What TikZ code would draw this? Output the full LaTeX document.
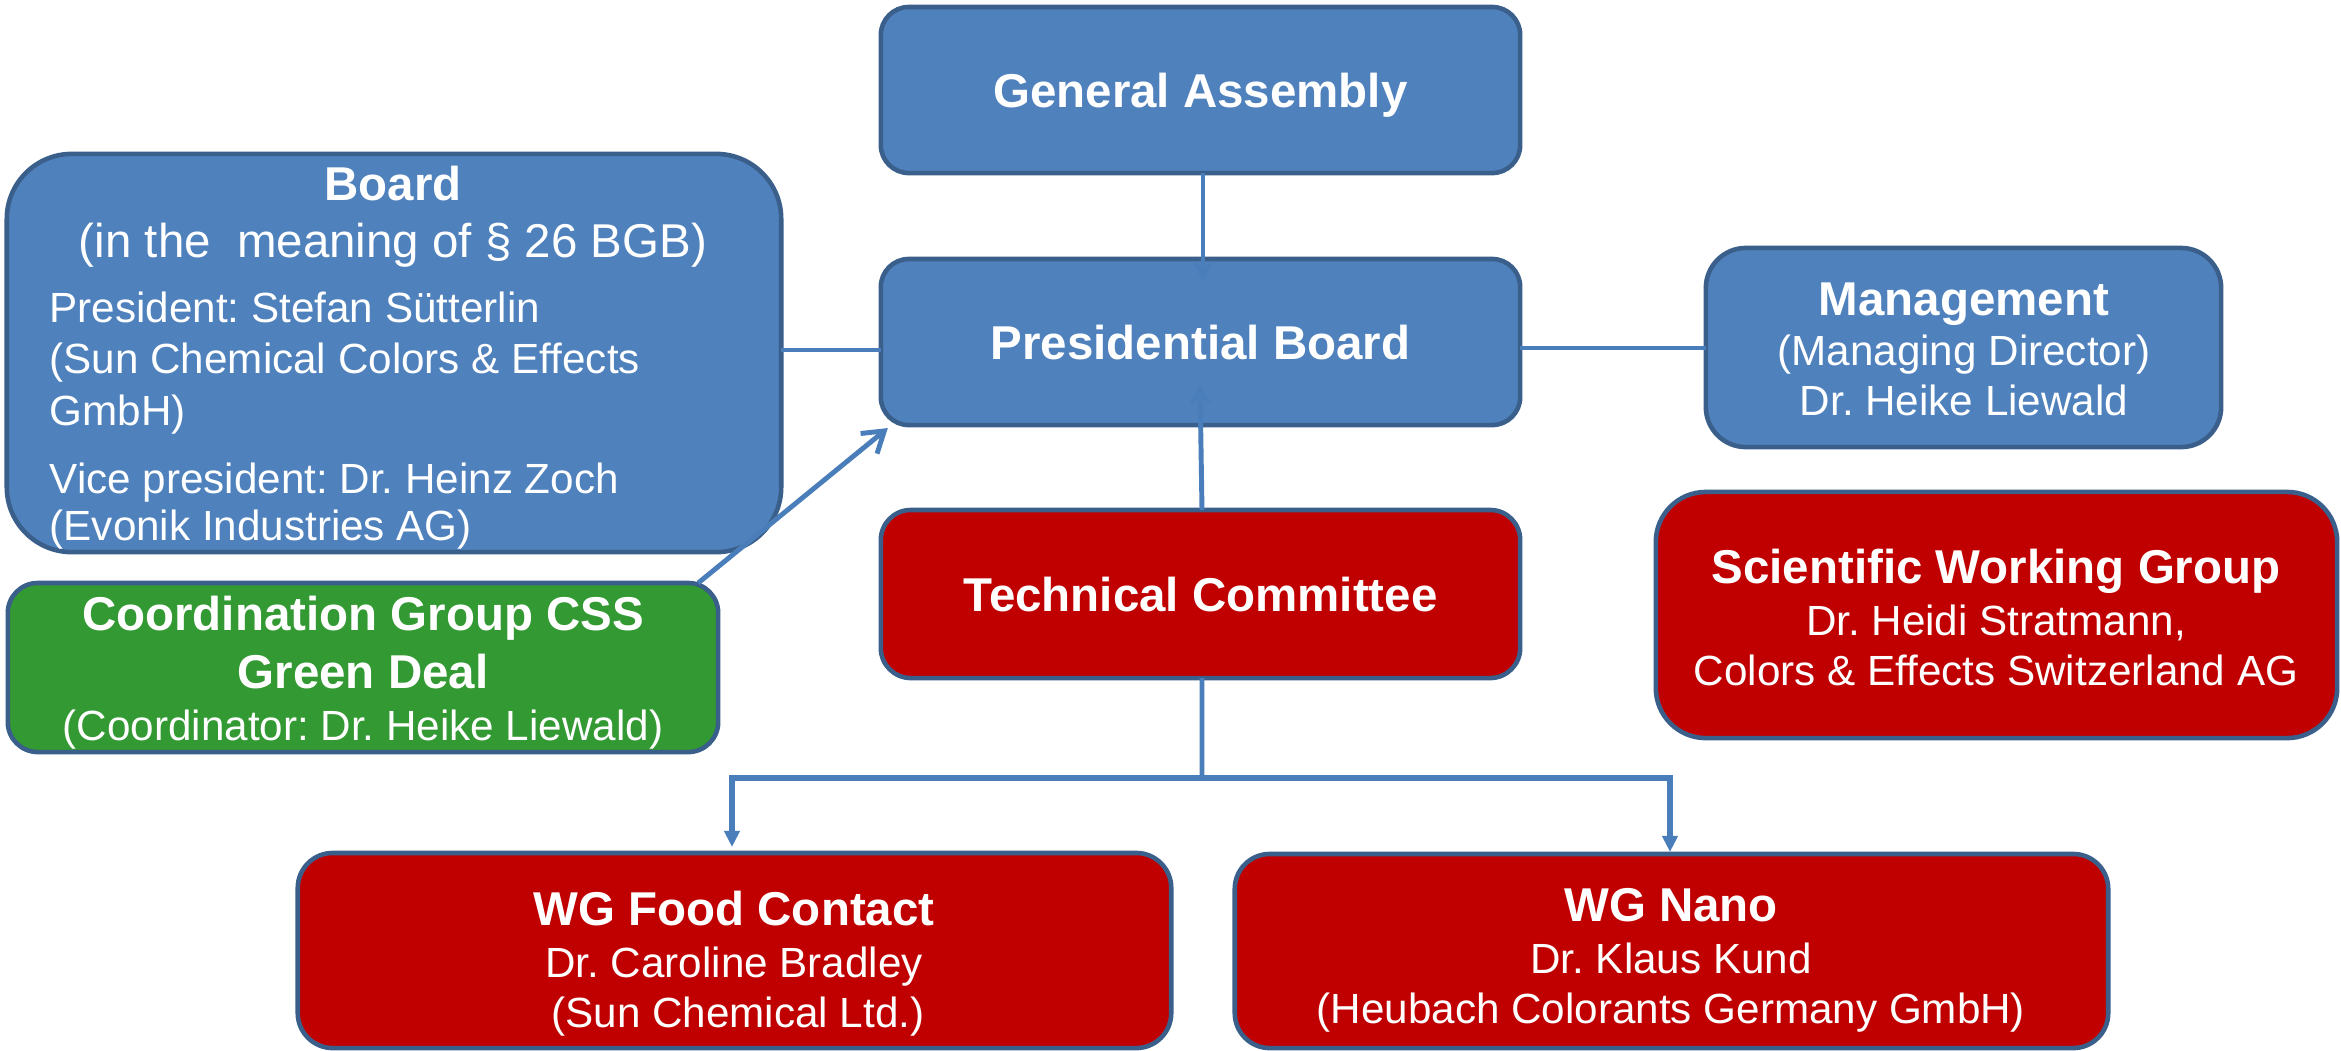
\documentclass[tikz,border=0pt]{standalone}
\usepackage{fontspec}
\setmainfont{Liberation Sans}
\usetikzlibrary{arrows.meta}
\definecolor{bfill}{HTML}{4F81BD}
\definecolor{bord}{HTML}{3A5F8B}
\definecolor{conn}{HTML}{4A7EBB}
\definecolor{rfill}{HTML}{C00000}
\definecolor{gfill}{HTML}{339933}
\frenchspacing
\begin{document}
\begin{tikzpicture}[x=0.01cm,y=-0.01cm,
  box/.style={draw=bord, line width=1.3pt, inner sep=0pt, outer sep=0pt, rectangle},
  bluebox/.style={box, fill=bfill},
  redbox/.style={box, fill=rfill},
  greenbox/.style={box, fill=gfill},
  bt/.style={anchor=base, text=white, inner sep=0pt, font=\fontsize{13.5}{16}\selectfont\bfseries},
  rt/.style={anchor=base, text=white, inner sep=0pt, font=\fontsize{12}{14}\selectfont},
  conline/.style={draw=conn, line width=1.4pt},
]
\fill[white] (0,0) rectangle (2341,1050);
\useasboundingbox (0,0) rectangle (2341,1050);

% boxes
\node[bluebox, minimum width=6.39cm, minimum height=1.66cm, rounded corners=0.28cm] (GA) at (1200.5,90) {};
\node[bluebox, minimum width=6.39cm, minimum height=1.66cm, rounded corners=0.28cm] (PB) at (1200.5,342) {};
\node[redbox, minimum width=6.39cm, minimum height=1.68cm, rounded corners=0.3cm] (TC) at (1200.5,594) {};
\node[bluebox, minimum width=7.74cm, minimum height=3.98cm, rounded corners=0.65cm] (Board) at (394,353) {};
\node[bluebox, minimum width=5.15cm, minimum height=1.99cm, rounded corners=0.4cm] (Mgmt) at (1963.5,347.5) {};
\node[redbox, minimum width=6.81cm, minimum height=2.46cm, rounded corners=0.5cm] (SWG) at (1996.5,615) {};
\node[greenbox, minimum width=7.10cm, minimum height=1.69cm, rounded corners=0.3cm] (Coord) at (363,667.5) {};
\node[redbox, minimum width=8.73cm, minimum height=1.95cm, rounded corners=0.35cm] (Food) at (734.5,950.5) {};
\node[redbox, minimum width=8.73cm, minimum height=1.94cm, rounded corners=0.35cm] (Nano) at (1671.5,951) {};

% connectors
\draw[conline, -{Stealth[length=0.2cm,width=0.22cm]}] ([xshift=0.025cm]GA.south) -- ([xshift=0.025cm,yshift=-0.22cm]PB.north);
\draw[conline, -{Stealth[length=0.2cm,width=0.22cm]}] ([xshift=0.015cm]TC.north) -- ([xshift=-0.005cm,yshift=0.41cm]PB.south);
\draw[conline] (Board.east |- 0,350) -- (PB.west |- 0,350);
\draw[conline] (PB.east |- 0,348) -- (Mgmt.west |- 0,348);
\draw[conline, -{Straight Barb[length=0.2cm,width=0.26cm,line width=1.4pt]}] ([xshift=-0.2cm]Coord.north east) -- ([xshift=0.07cm,yshift=-0.03cm]PB.south west);
\coordinate (split) at (1202,778);
\draw[conline] ([xshift=0.015cm]TC.south) -- (split);
\draw[conline, line width=1.6pt, -{Triangle[length=0.16cm,width=0.15cm]}] (split) -| ([xshift=-0.025cm,yshift=0.06cm]Food.north);
\draw[conline, line width=1.6pt, -{Triangle[length=0.16cm,width=0.15cm]}] (split) -| ([xshift=-0.015cm,yshift=0.02cm]Nano.north);

% texts
\node[bt] (tGA) at (1200.5,107) {General Assembly};
\node[bt] (tPB) at (1200.5,359) {Presidential Board};
\node[bt] (tTC) at (1200.5,611) {Technical Committee};

\node[bt] (tB1) at (393,200) {Board};
\node[rt, font=\fontsize{13.5}{16}\selectfont] (tB2) at (393,257) {(in the\ \ meaning of § 26 BGB)};
\node[rt, anchor=base west] (tB3) at (49,322) {President: Stefan Sütterlin};
\node[rt, anchor=base west] (tB4) at (49,373) {(Sun Chemical Colors \& Effects};
\node[rt, anchor=base west] (tB5) at (49,425) {GmbH)};
\node[rt, anchor=base west] (tB6) at (49,493) {Vice president: Dr. Heinz Zoch};
\node[rt, anchor=base west] (tB7) at (49,540) {(Evonik Industries AG)};

\node[bt] (tM1) at (1964,315) {Management};
\node[rt] (tM2) at (1964,365) {(Managing Director)};
\node[rt] (tM3) at (1964,415) {Dr. Heike Liewald};

\node[bt] (tS1) at (1996,583) {Scientific Working Group};
\node[rt] (tS2) at (1996,635) {Dr. Heidi Stratmann,};
\node[rt] (tS3) at (1996,685) {Colors \& Effects Switzerland AG};

\node[bt] (tC1) at (363,630) {Coordination Group CSS};
\node[bt] (tC2) at (363,688) {Green Deal};
\node[rt] (tC3) at (363,740) {(Coordinator: Dr. Heike Liewald)};

\node[bt] (tF1) at (734,925) {WG Food Contact};
\node[rt] (tF2) at (734,977) {Dr. Caroline Bradley};
\node[rt] (tF3) at (738,1027) {(Sun Chemical Ltd.)};

\node[bt] (tN1) at (1671,921) {WG Nano};
\node[rt] (tN2) at (1671,973) {Dr. Klaus Kund};
\node[rt] (tN3) at (1671,1023) {(Heubach Colorants Germany GmbH)};
\end{tikzpicture}
\end{document}
